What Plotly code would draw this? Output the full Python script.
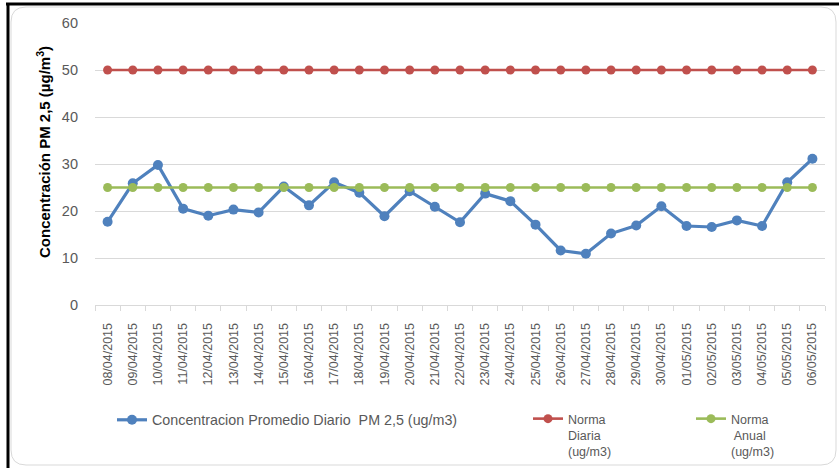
import plotly.graph_objects as go

fechas = ["08/04/2015","09/04/2015","10/04/2015","11/04/2015","12/04/2015","13/04/2015",
          "14/04/2015","15/04/2015","16/04/2015","17/04/2015","18/04/2015","19/04/2015",
          "20/04/2015","21/04/2015","22/04/2015","23/04/2015","24/04/2015","25/04/2015",
          "26/04/2015","27/04/2015","28/04/2015","29/04/2015","30/04/2015","01/05/2015",
          "02/05/2015","03/05/2015","04/05/2015","05/05/2015","06/05/2015"]
concentracion = [17.7, 25.9, 29.8, 20.5, 19.0, 20.3, 19.7, 25.2, 21.2, 26.1, 23.9, 18.9,
                 24.2, 20.9, 17.6, 23.7, 22.1, 17.1, 11.6, 10.9, 15.2, 16.9, 21.0, 16.8,
                 16.6, 18.0, 16.8, 26.1, 31.1]
norma_diaria = [50] * len(fechas)
norma_anual = [25] * len(fechas)

W, H = 839, 468
L, R, T, B = 95, 825, 23, 305

def pxx(p):
    return (p - L) / (R - L)

def pxy(p):
    return (B - p) / (B - T)

GRAY_TXT = "#595959"
FONT = "Liberation Sans"

fig = go.Figure()
fig.add_trace(go.Scatter(x=fechas, y=concentracion, mode="lines+markers",
                         name="Concentracion Promedio Diario  PM 2,5 (ug/m3)",
                         line=dict(color="#4F81BD", width=3.2),
                         marker=dict(color="#4F81BD", size=10),
                         legend="legend"))
fig.add_trace(go.Scatter(x=fechas, y=norma_diaria, mode="lines+markers",
                         name="Norma<br>Diaria<br>(ug/m3)",
                         line=dict(color="#C0504D", width=2.6),
                         marker=dict(color="#C0504D", size=9),
                         legend="legend2"))
fig.add_trace(go.Scatter(x=fechas, y=norma_anual, mode="lines+markers",
                         name="Norma<br> Anual<br>(ug/m3)",
                         line=dict(color="#9BBB59", width=2.6),
                         marker=dict(color="#9BBB59", size=9),
                         legend="legend3"))

def leg(x, y, size):
    return dict(orientation="v", xanchor="left", yanchor="top", valign="top",
                x=pxx(x), y=pxy(y), bgcolor="rgba(0,0,0,0)", borderwidth=0,
                font=dict(family=FONT, size=size, color=GRAY_TXT))

fig.update_layout(
    width=W, height=H,
    margin=dict(l=L, r=W - R, t=T, b=H - B, autoexpand=False),
    paper_bgcolor="white", plot_bgcolor="white",
    showlegend=True,
    legend=leg(112, 404, 14.3),
    legend2=leg(528, 404, 12.5),
    legend3=leg(691, 404, 12.5),
    xaxis=dict(type="category", range=[-0.5, len(fechas) - 0.5],
               tickangle=-90, tickfont=dict(family=FONT, size=12.5, color=GRAY_TXT),
               showline=True, linecolor="#D9D9D9", linewidth=1,
               ticks="outside", tickson="boundaries", ticklen=5, tickcolor="#D9D9D9",
               ticklabelstandoff=12, automargin=False,
               showgrid=False, zeroline=False),
    yaxis=dict(range=[0, 60], tickvals=[0, 10, 20, 30, 40, 50, 60],
               tickfont=dict(family=FONT, size=14.5, color=GRAY_TXT),
               showgrid=True, gridcolor="#D9D9D9", gridwidth=1, automargin=False,
               zeroline=False, showline=False, ticklabelstandoff=16),
    annotations=[dict(text="<b>Concentración PM 2,5 (µg/m<sup>3</sup>)</b>",
                      xref="paper", yref="paper", x=pxx(43), y=pxy(152),
                      xanchor="center", yanchor="middle", textangle=-90,
                      showarrow=False, font=dict(family=FONT, size=15, color="black"))],
    shapes=[
        dict(type="path", xref="paper", yref="paper",
             path=(f"M {pxx(26)},{pxy(7)} L {pxx(821)},{pxy(7)} "
                   f"Q {pxx(836)},{pxy(7)} {pxx(836)},{pxy(22)} "
                   f"L {pxx(836)},{pxy(450)} Q {pxx(836)},{pxy(465)} {pxx(821)},{pxy(465)} "
                   f"L {pxx(26)},{pxy(465)} Q {pxx(11)},{pxy(465)} {pxx(11)},{pxy(450)} "
                   f"L {pxx(11)},{pxy(22)} Q {pxx(11)},{pxy(7)} {pxx(26)},{pxy(7)} Z"),
             line=dict(color="#D9D9D9", width=1), layer="below"),
        dict(type="line", xref="paper", yref="paper",
             x0=pxx(6), x1=pxx(839), y0=pxy(4), y1=pxy(4),
             line=dict(color="black", width=3)),
        dict(type="line", xref="paper", yref="paper",
             x0=pxx(8), x1=pxx(8), y0=pxy(3), y1=pxy(468),
             line=dict(color="black", width=3)),
    ],
)

fig.write_html("out.html", config={"displayModeBar": False},
               post_script="document.body.style.margin='0';document.body.style.overflow='hidden';")
